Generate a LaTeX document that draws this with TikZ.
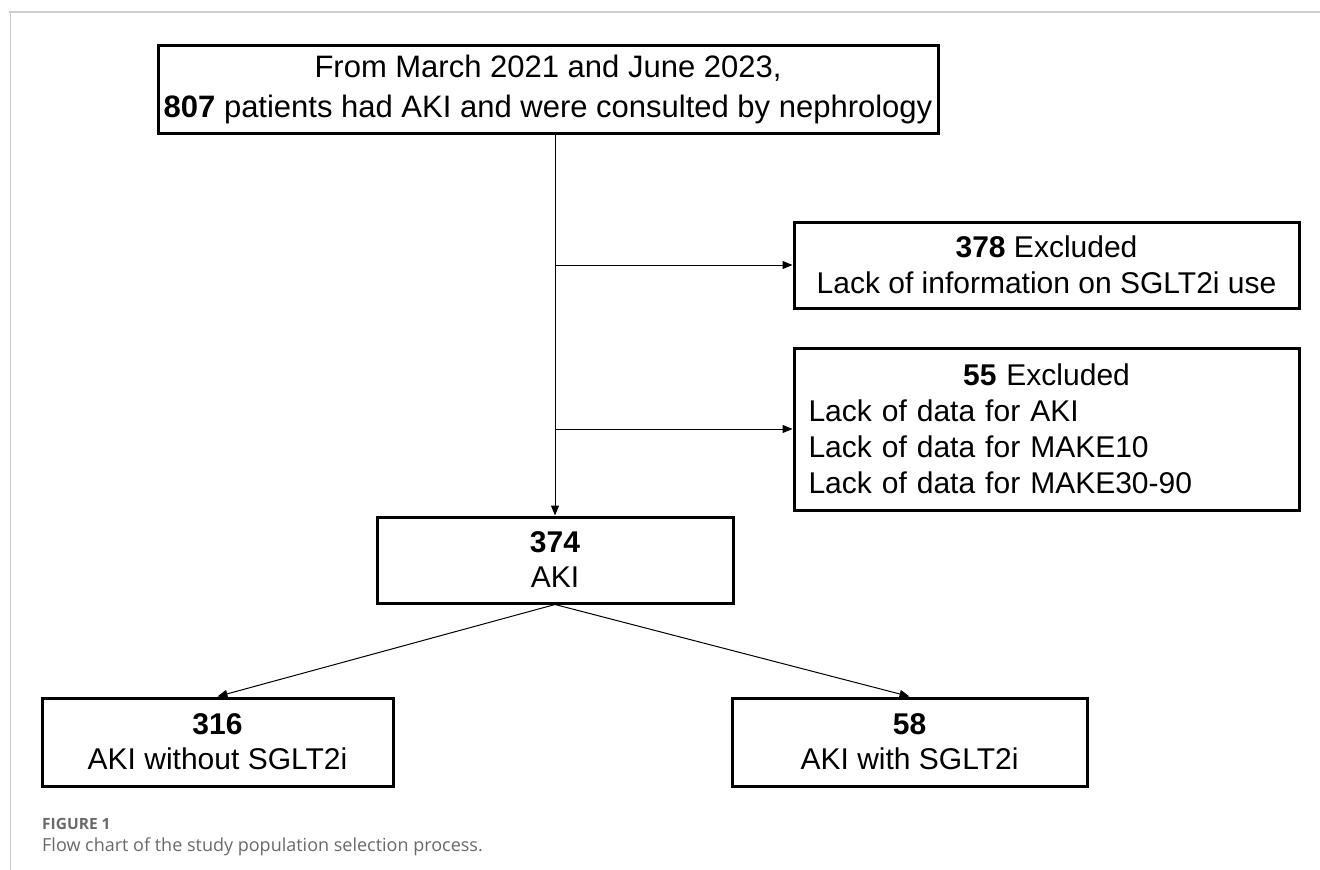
\documentclass[tikz,border=0pt]{standalone}
\usepackage{fontspec}
\setmainfont{Liberation Sans}
\newfontfamily\capfont{Open Sans}
\usetikzlibrary{arrows.meta}
\definecolor{framegray}{RGB}{205,205,205}
\definecolor{capgray}{RGB}{105,105,105}
\begin{document}
\begin{tikzpicture}[x=1pt,y=-1pt,
  box/.style={draw, line width=3pt, rectangle, inner sep=0pt, align=center,
    font=\fontsize{30}{36}\selectfont},
  conn/.style={line width=1pt},
  arr/.style={conn, -{Triangle[length=10pt,width=8pt]}},
  captext/.style={anchor=base west, text=capgray, inner sep=0pt},
]
\useasboundingbox (0,0) rectangle (1320,870);
% page frame
\draw[line width=2pt, framegray] (9,11.5) -- (1320,11.5);
\draw[line width=1pt, framegray] (10,11.5) -- (10,870);

% boxes
\node[box, minimum width=780pt, minimum height=88pt,
  font=\fontsize{31}{40}\selectfont] (src) at (548,89)
  {From March 2021 and June 2023,\\\textbf{807} patients had AKI and were consulted by nephrology};
\node[box, minimum width=505pt, minimum height=86pt] (ex1) at (1046.5,265)
  {\textbf{378} Excluded\\Lack of information on SGLT2i use};
\node[box, minimum width=505pt, minimum height=162pt, text width=476pt, align=left] (ex2) at (1046.5,429)
  {\makebox[476pt][c]{\textbf{55} Excluded}\\Lack of data for AKI\\Lack of data for MAKE10\\Lack of data for MAKE30-90};
\node[box, minimum width=356pt, minimum height=86pt, font=\fontsize{30}{35}\selectfont] (aki) at (555,560)
  {\textbf{374}\\AKI};
\node[box, minimum width=351pt, minimum height=88pt, font=\fontsize{30}{35}\selectfont] (without) at (217.5,742)
  {\textbf{316}\\AKI without SGLT2i};
\node[box, minimum width=355pt, minimum height=88pt, font=\fontsize{30}{35}\selectfont] (with) at (909.5,742)
  {\textbf{58}\\AKI with SGLT2i};

% connectors
\draw[arr] (src.south -| aki.north) -- (aki.north);
\draw[arr] (ex1.west -| aki.north) -- (ex1.west);
\draw[arr] (ex2.west -| aki.north) -- (ex2.west);
\draw[arr] (aki.south) -- (without.north);
\draw[arr] (aki.south) -- (with.north);

% caption
\node[captext, font=\capfont\bfseries\fontsize{15.5}{18}\selectfont] (figlab) at (42,829) {FIGURE 1};
\node[captext, font=\capfont\fontsize{18}{21}\selectfont] (cap) at (42,851) {Flow chart of the study population selection process.};
\end{tikzpicture}
\end{document}
